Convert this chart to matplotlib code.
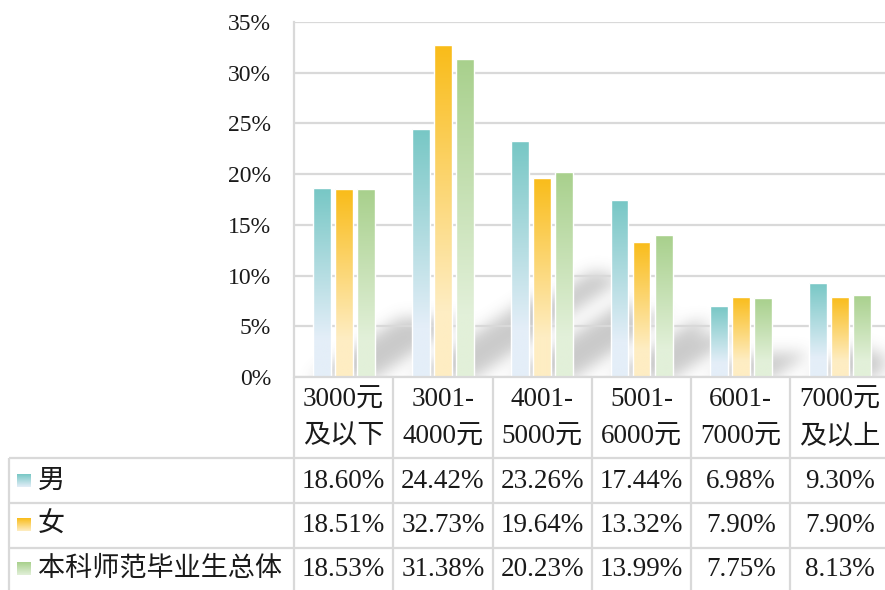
import numpy as np
import matplotlib
matplotlib.use("Agg")
import matplotlib.pyplot as plt
from matplotlib.colors import to_rgb

# ---------------- data ----------------
categories = ["3000元\n及以下", "3001-\n4000元", "4001-\n5000元",
              "5001-\n6000元", "6001-\n7000元", "7000元\n及以上"]
series_names = ["男", "女", "本科师范毕业生总体"]
male = [18.60, 24.42, 23.26, 17.44, 6.98, 9.30]
female = [18.51, 32.73, 19.64, 13.32, 7.90, 7.90]
overall = [18.53, 31.38, 20.23, 13.99, 7.75, 8.13]
yticks = [0, 5, 10, 15, 20, 25, 30, 35]

series = [male, female, overall]
top_colors = ["#77C7C5", "#F9BC19", "#A8D08C"]
bottom_colors = ["#E4EEF8", "#FEEDC3", "#E2F0D9"]

FONT = ["Liberation Serif", "Noto Sans CJK SC", "DejaVu Sans"]
TXT = "#1a1a1a"
GRID = "#D9D9D9"

W, H = 885, 590
AX_L, AX_T, AX_B, COLW = 294, 22, 377, 99.3
ROW_LINES = [458, 503, 548]
ROW_CENTERS = [481, 525, 569]
CAT_LINES_Y = [400, 437]

fig = plt.figure(figsize=(W / 100, H / 100), dpi=100, facecolor="white")

ax = fig.add_axes([AX_L / W, (H - AX_B) / H, 6 * COLW / W, (AX_B - AX_T) / H], zorder=2)
ax.patch.set_alpha(0)
sax = fig.add_axes([0, 0, 1, 1], zorder=1)
sax.axis("off")
tax = fig.add_axes([0, 0, 1, 1], zorder=3)
tax.axis("off")
tax.patch.set_alpha(0)


def gradient(c_top, c_bot, n=200, stop=0.8):
    t = np.linspace(0, 1, n)
    f = np.clip(t / stop, 0, 1)[:, None]
    a = np.array(to_rgb(c_top))[None, :]
    b = np.array(to_rgb(c_bot))[None, :]
    return (a + (b - a) * f)[:, None, :]


x = np.arange(len(categories))
offsets = [-0.222, 0.0, 0.222]
bw = 0.18
all_bars = []
for j, vals in enumerate(series):
    bars = ax.bar(x + offsets[j], np.array(vals) / 100, width=bw,
                  facecolor="none", edgecolor="white", linewidth=1.0, zorder=4)
    g = gradient(top_colors[j], bottom_colors[j])
    for b in bars:
        x0, w_, h_ = b.get_x(), b.get_width(), b.get_height()
        im = ax.imshow(g, extent=(x0, x0 + w_, 0, h_), aspect="auto",
                       origin="upper", zorder=3, interpolation="bilinear")
        im.set_clip_path(b)
        all_bars.append(b)

ax.set_xlim(-0.5, len(categories) - 0.5)
ax.set_ylim(0, 0.35)
ax.set_xticks([])
ax.set_yticks(np.array(yticks) / 100)
ax.set_yticklabels([f"{t}%" for t in yticks], fontfamily=FONT, fontsize=17, color=TXT)
ax.tick_params(axis="y", length=0, pad=16.5)
ax.yaxis.grid(True, color=GRID, linewidth=1.6)
ax.set_axisbelow(True)
for s in ["top", "right", "bottom"]:
    ax.spines[s].set_visible(False)
ax.spines["left"].set_color(GRID)
ax.spines["left"].set_linewidth(1.6)

# ---------------- soft perspective shadow ----------------
S = np.zeros((H, W))
for b in all_bars:
    (dx0, dy0), (dx1, dy1) = ax.transData.transform(
        [(b.get_x(), 0), (b.get_x() + b.get_width(), b.get_height())])
    base = H - dy0
    hb = dy1 - dy0
    top = 0.32 * hb
    shift_top = 0.48 * hb
    for dy in range(int(top)):
        r = int(round(base - dy))
        sh = shift_top * dy / top
        xs, xe = int(dx0 + sh - 2), int(dx1 + sh + 2)
        xs, xe = max(xs, 0), min(xe, W)
        if xe > xs and 0 <= r < H:
            S[r, xs:xe] = 1.0
k = np.arange(-24, 25)
kern = np.exp(-k ** 2 / (2 * 7.5 ** 2))
kern /= kern.sum()
S = np.apply_along_axis(lambda v: np.convolve(v, kern, mode="same"), 1, S)
S = np.apply_along_axis(lambda v: np.convolve(v, kern, mode="same"), 0, S)
S[int(AX_B):, :] = 0
S[:, :AX_L + 1] = 0
img = np.zeros((H, W, 4))
img[..., :3] = 0.42
img[..., 3] = np.clip(S * 0.36, 0, 1)
sax.imshow(img, extent=(0, W, H, 0), interpolation="bilinear", aspect="auto")
sax.set_xlim(0, W)
sax.set_ylim(H, 0)

# ---------------- data table ----------------
bx = [ax.transData.transform((i - 0.5, 0))[0] for i in range(len(categories) + 1)]
lkw = dict(color=GRID, linewidth=1.6, solid_capstyle="butt")
for xb in bx:
    tax.plot([xb, xb], [AX_B, H], **lkw)
tax.plot([9, 9], [ROW_LINES[0], H], **lkw)
for yl in ROW_LINES:
    tax.plot([9, W], [yl, yl], **lkw)
tax.plot([AX_L, W], [AX_B, AX_B], **lkw)

for i, cat in enumerate(categories):
    for line, yl in zip(cat.split("\n"), CAT_LINES_Y):
        tax.text((bx[i] + bx[i + 1]) / 2, yl, line, ha="center", va="center",
                 fontsize=19.5, family=FONT, color=TXT)

for j, (name, vals) in enumerate(zip(series_names, series)):
    yc = ROW_CENTERS[j]
    g = gradient(top_colors[j], bottom_colors[j], stop=1.0)
    tax.imshow(g, extent=(17, 31, yc + 6.5, yc - 6.5), aspect="auto",
               origin="upper", interpolation="bilinear")
    tax.text(38, yc, name, ha="left", va="center", fontsize=19.5,
             family=FONT, color=TXT)
    for i, v in enumerate(vals):
        tax.text((bx[i] + bx[i + 1]) / 2, yc, f"{v:.2f}%", ha="center",
                 va="center", fontsize=19.5, family=FONT, color=TXT)

tax.set_xlim(0, W)
tax.set_ylim(H, 0)

fig.savefig("out.png", dpi=100, facecolor="white")
